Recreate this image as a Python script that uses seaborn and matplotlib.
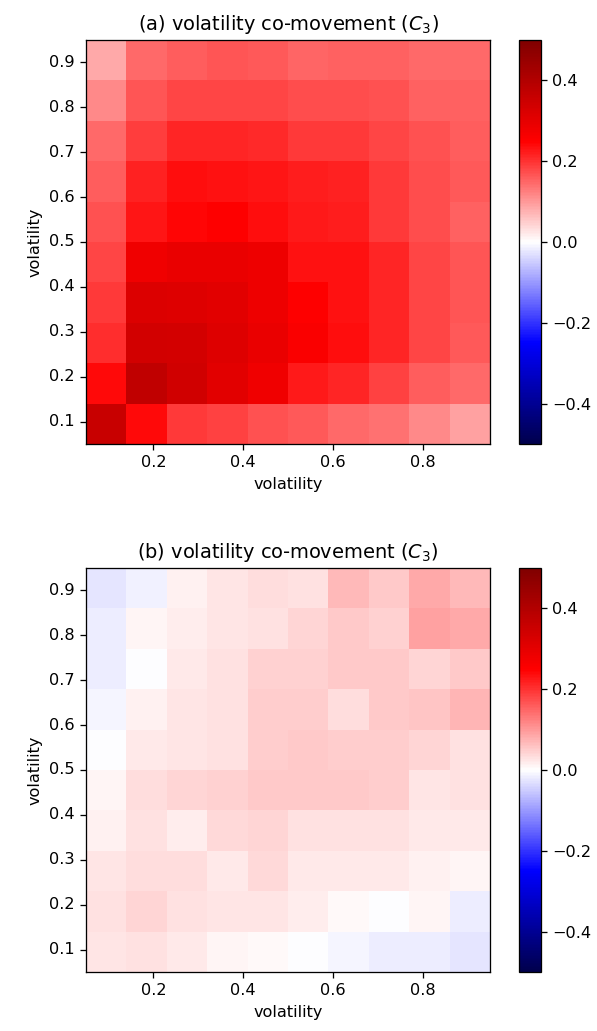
import numpy as np
import matplotlib
matplotlib.use("Agg")
import matplotlib.pyplot as plt
import seaborn as sns

# Grid edges of the volatility bins (10 x 10 cells from 0.05 to 0.95)
edges = np.linspace(0.05, 0.95, 11)
xticks = [0.2, 0.4, 0.6, 0.8]
yticks = [0.1, 0.2, 0.3, 0.4, 0.5, 0.6, 0.7, 0.8, 0.9]

# Co-movement C3, rows listed from highest volatility (top) to lowest (bottom)
c3_a = np.array([
    [0.085, 0.146, 0.160, 0.167, 0.162, 0.152, 0.154, 0.154, 0.146, 0.146],
    [0.117, 0.167, 0.180, 0.183, 0.180, 0.174, 0.174, 0.171, 0.154, 0.154],
    [0.148, 0.191, 0.211, 0.211, 0.209, 0.195, 0.195, 0.183, 0.171, 0.160],
    [0.160, 0.217, 0.238, 0.234, 0.230, 0.219, 0.217, 0.195, 0.175, 0.164],
    [0.171, 0.230, 0.245, 0.250, 0.238, 0.225, 0.219, 0.195, 0.175, 0.156],
    [0.180, 0.279, 0.291, 0.291, 0.283, 0.234, 0.234, 0.211, 0.183, 0.167],
    [0.195, 0.319, 0.315, 0.307, 0.283, 0.250, 0.234, 0.211, 0.183, 0.167],
    [0.205, 0.338, 0.334, 0.315, 0.291, 0.260, 0.236, 0.211, 0.183, 0.164],
    [0.240, 0.374, 0.342, 0.307, 0.279, 0.226, 0.211, 0.185, 0.160, 0.148],
    [0.358, 0.240, 0.193, 0.187, 0.171, 0.164, 0.146, 0.140, 0.117, 0.093],
])

c3_b = np.array([
    [-0.025, -0.013, 0.013, 0.025, 0.032, 0.030, 0.070, 0.052, 0.083, 0.070],
    [-0.017, 0.011, 0.017, 0.025, 0.030, 0.040, 0.054, 0.046, 0.093, 0.085],
    [-0.016, -0.003, 0.021, 0.030, 0.044, 0.044, 0.052, 0.054, 0.040, 0.052],
    [-0.008, 0.013, 0.027, 0.030, 0.050, 0.050, 0.034, 0.052, 0.056, 0.073],
    [-0.003, 0.023, 0.025, 0.030, 0.048, 0.054, 0.050, 0.048, 0.042, 0.030],
    [0.009, 0.032, 0.042, 0.046, 0.054, 0.052, 0.052, 0.048, 0.027, 0.030],
    [0.013, 0.030, 0.019, 0.036, 0.042, 0.030, 0.030, 0.030, 0.023, 0.023],
    [0.025, 0.032, 0.032, 0.021, 0.036, 0.023, 0.023, 0.021, 0.013, 0.011],
    [0.030, 0.042, 0.030, 0.027, 0.027, 0.017, 0.007, -0.003, 0.009, -0.016],
    [0.025, 0.030, 0.021, 0.009, 0.007, -0.003, -0.009, -0.017, -0.017, -0.025],
])

titles = [r"(a) volatility co-movement ($C_3$)", r"(b) volatility co-movement ($C_3$)"]

W, H = 597, 1031
DPI = 116
fig = plt.figure(figsize=(W / DPI, H / DPI), dpi=DPI)

# pixel rows (top, bottom) of each panel
panels = [
    (c3_a, 40, 444),
    (c3_b, 568, 972),
]

step = edges[1] - edges[0]

for (data, top, bottom), title in zip(panels, titles):
    ax = fig.add_axes([86 / W, 1 - bottom / H, 404 / W, (bottom - top) / H])
    cax = fig.add_axes([519 / W, 1 - bottom / H, 22 / W, (bottom - top) / H])
    sns.heatmap(data, ax=ax, cbar_ax=cax, cmap="seismic", vmin=-0.5, vmax=0.5,
                square=False, linewidths=0)
    # frame around the heatmap and colorbar
    for s in ax.spines.values():
        s.set_visible(True)
        s.set_linewidth(0.8)
        s.set_color("black")
    cb = ax.collections[0].colorbar
    cb.outline.set_visible(True)
    cb.outline.set_linewidth(0.8)
    cb.outline.set_edgecolor("black")
    cb.set_ticks([-0.4, -0.2, 0.0, 0.2, 0.4])
    cb.set_ticklabels(["\u22120.4", "\u22120.2", "0.0", "0.2", "0.4"])
    cax.tick_params(labelsize=10, length=3.5, width=0.8)

    # map volatility values onto heatmap cell coordinates
    ax.set_xticks([(t - edges[0]) / step for t in xticks])
    ax.set_xticklabels([f"{t:.1f}" for t in xticks], rotation=0)
    ax.set_yticks([(edges[-1] - t) / step for t in yticks])
    ax.set_yticklabels([f"{t:.1f}" for t in yticks], rotation=0)
    ax.tick_params(labelsize=10, length=3.5, width=0.8, left=True, bottom=True)
    ax.set_xlabel("volatility", fontsize=10)
    ax.set_ylabel("volatility", fontsize=10)
    ax.set_title(title, fontsize=12)

fig.savefig("out.png", dpi=DPI)
